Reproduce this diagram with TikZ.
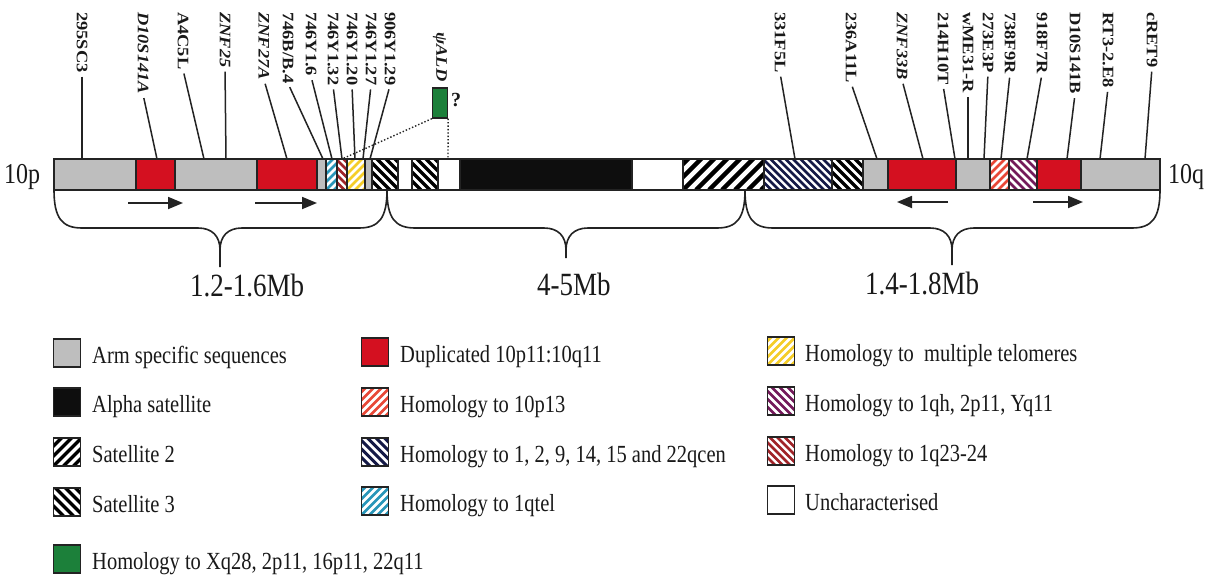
\documentclass[tikz,border=0pt]{standalone}
\usepackage{fontspec}
\setmainfont{Liberation Serif}
\usetikzlibrary{arrows.meta}
\definecolor{armgray}{RGB}{190,190,190}
\definecolor{dupred}{RGB}{212,16,32}
\definecolor{alphablack}{RGB}{14,14,14}
\definecolor{aldgreen}{RGB}{28,128,58}
\definecolor{qtelcyan}{RGB}{40,150,185}
\definecolor{telyellow}{RGB}{245,205,40}
\definecolor{ptredd}{RGB}{232,72,55}
\definecolor{qhpurple}{RGB}{115,25,90}
\definecolor{qtwred}{RGB}{160,35,40}
\definecolor{navyc}{RGB}{20,25,70}
\definecolor{edge}{RGB}{35,35,35}
\definecolor{txt}{RGB}{25,25,25}
\newcommand{\vs}[1]{\scalebox{1}[1.2]{#1}}
\newcommand{\mklab}[4]{%
  \node[lab] (#1) at (#2,12) {\scalebox{1.15}[1]{#3}};
  \draw[conn] (#1.east) -- (#4);}
\newcommand{\mybrace}[4]{%
  \draw[brc] (#1,190) .. controls (#1,218) and (#1+8,228) .. (#1+28,228) -- (#3-22,228)
     .. controls (#3-8,228) and (#3,236) .. (#3,250) -- (#3,#4);
  \draw[brc] (#3,250) .. controls (#3,236) and (#3+8,228) .. (#3+22,228) -- (#2-28,228)
     .. controls (#2-8,228) and (#2,218) .. (#2,190);}
\tikzset{
  seg/.style={draw=edge, line width=1.3pt},
  arm/.style={seg, fill=armgray},
  dup/.style={seg, fill=dupred},
  alpha/.style={seg, fill=alphablack},
  unch/.style={seg, fill=white},
  ald/.style={seg, fill=aldgreen},
  % #1 = 1 for "/" , -1 for "\" ; #2 = horizontal spacing ; #3 = line width ; #4 = colour
  hatch/.style n args={4}{seg, fill=white,
     path picture={
       \foreach \k in {-8,...,22}
         \draw[#4, line width=#3]
           (path picture bounding box.south west) ++(\k*#2,0) -- ++(#1*40,-40);
     }},
  sattwo/.style={hatch={1}{13}{4.3pt}{black}},
  satthree/.style={hatch={-1}{9}{3.2pt}{black}},
  cen/.style={hatch={-1}{7.5}{2.8pt}{navyc}},
  qtel/.style={hatch={1}{8}{2.6pt}{qtelcyan}},
  ptt/.style={hatch={1}{8}{2.6pt}{ptredd}},
  tel/.style={hatch={1}{8}{2.8pt}{telyellow}},
  qh/.style={hatch={-1}{8}{2.6pt}{qhpurple}},
  qtw/.style={hatch={-1}{7.5}{2.5pt}{qtwred}},
  lab/.style={rotate=-90, anchor=west, inner sep=0pt, text=txt,
     font=\fontsize{16}{16}\selectfont\bfseries},
  conn/.style={draw=edge, line width=1.5pt, shorten <=4pt},
  brc/.style={draw=edge, line width=1.6pt},
  arr/.style={draw=edge, line width=1.8pt, -{Triangle[length=15pt,width=12pt]}},
  legbox/.style={minimum width=27pt, minimum height=28pt, inner sep=0pt, line width=1.5pt},
  legtxt/.style={anchor=base west, inner sep=0pt, text=txt, font=\fontsize{20.5}{20.5}\selectfont},
  mbtxt/.style={anchor=base west, inner sep=0pt, text=txt, font=\fontsize{27}{27}\selectfont},
}
\begin{document}
\begin{tikzpicture}[x=1pt,y=-1pt]
\useasboundingbox[fill=white] (0,0) rectangle (1216,576);
% bar segments
\foreach \a/\b/\s in {54/136/arm, 136/175/dup, 175/257/arm, 257/317/dup, 317/326/arm,
  326/337/qtel, 337/347/qtw, 347/365/tel, 365/372/arm, 372/398/satthree, 398/412/unch,
  412/438/satthree, 438/460/unch, 460/632/alpha, 632/683/unch, 683/764/sattwo,
  764/832/cen, 832/863/satthree, 863/888/arm, 888/956/dup, 956/990/arm, 990/1009/ptt,
  1009/1037/qh, 1037/1081/dup, 1081/1160/arm}
  \path[\s] (\a,159) rectangle (\b,190);
% attachment points on the bar
\foreach \n/\x in {a1/82, a2/157, a3/204, a4/226, a5/287, a6/323, a7/332, a8/342, a9/355,
  a10/363, a11/370, a12/795, a13/877, a14/923, a15/955, a16/968, a17/984, a18/1001,
  a19/1027, a20/1067, a21/1100, a22/1145, aq/342, ar/448}
  \coordinate (\n) at (\x,159);
% labels
\mklab{l1}{82}{295SC3}{a1}
\mklab{l2}{143}{\itshape D10S141A}{a2}
\mklab{l3}{183}{A4C5L}{a3}
\mklab{l4}{225}{\itshape ZNF25}{a4}
\mklab{l5}{264}{\itshape ZNF27A}{a5}
\mklab{l6}{288}{746B/B.4}{a6}
\mklab{l7}{311}{746Y1.6}{a7}
\mklab{l8}{333}{746Y1.32}{a8}
\mklab{l9}{352}{746Y1.20}{a9}
\mklab{l10}{371}{746Y1.27}{a10}
\mklab{l11}{390}{906Y1.29}{a11}
\mklab{l12}{780}{331F5L}{a12}
\mklab{l13}{851}{236A11L}{a13}
\mklab{l14}{902}{\itshape ZNF33B}{a14}
\mklab{l15}{943}{214H10T}{a15}
\mklab{l16}{968}{wME31-R}{a16}
\mklab{l17}{988}{273E3P}{a17}
\mklab{l18}{1010}{738F9R}{a18}
\mklab{l19}{1042}{918F7R}{a19}
\mklab{l20}{1075}{D10S141B}{a20}
\mklab{l21}{1108}{RT3-2.E8}{a21}
\mklab{l22}{1152}{cRET9}{a22}
% psi ALD
\node[lab] (lald) at (440,32) {\scalebox{1.15}[1]{\itshape ψALD}};
\node[ald, minimum width=15pt, minimum height=30pt, inner sep=0pt] (gbox) at (440,103) {};
\node[anchor=west, inner sep=0pt, text=txt, font=\fontsize{20}{20}\selectfont\bfseries] (qm) at (451,100) {?};
\draw[edge, line width=1.4pt, dotted] (gbox.south west) -- (aq);
\draw[edge, line width=1.4pt, dotted] (gbox.south east) -- (ar);
% arm labels
\node[anchor=base west, inner sep=0pt, text=txt, font=\fontsize{24}{24}\selectfont] (p10) at (4,183) {\vs{10p}};
\node[anchor=base west, inner sep=0pt, text=txt, font=\fontsize{24}{24}\selectfont] (q10) at (1168,183) {\vs{10q}};
% arrows
\draw[arr] (128,203) -- (183,203);
\draw[arr] (255,203) -- (317,203);
\draw[arr] (948,202) -- (897,202);
\draw[arr] (1033,202) -- (1083,202);
% braces
\mybrace{54}{387}{220}{267}
\mybrace{387}{745}{566}{258}
\mybrace{745}{1160}{952}{265}
\node[mbtxt] (mb1) at (190,296) {\vs{1.2-1.6Mb}};
\node[mbtxt] (mb2) at (537,295) {\vs{4-5Mb}};
\node[mbtxt] (mb3) at (865,294) {\vs{1.4-1.8Mb}};
% legend column 1
\node[legbox, arm] (k1) at (67,353) {};
\node[legtxt] (t1) at (92,363) {\vs{Arm specific sequences}};
\node[legbox, alpha] (k2) at (67,402) {};
\node[legtxt] (t2) at (92,412) {\vs{Alpha satellite}};
\node[legbox, hatch={1}{10}{3.4pt}{black}] (k3) at (67,452) {};
\node[legtxt] (t3) at (92,462) {\vs{Satellite 2}};
\node[legbox, hatch={-1}{10}{3.4pt}{black}] (k4) at (67,502) {};
\node[legtxt] (t4) at (92,512) {\vs{Satellite 3}};
\node[legbox, ald] (k5) at (67,559) {};
\node[legtxt] (t5) at (92,569) {\vs{Homology to Xq28, 2p11, 16p11, 22q11}};
% legend column 2
\node[legbox, dup] (k6) at (375,352) {};
\node[legtxt] (t6) at (400,362) {\vs{Duplicated 10p11:10q11}};
\node[legbox, ptt] (k7) at (375,402) {};
\node[legtxt] (t7) at (400,412) {\vs{Homology to 10p13}};
\node[legbox, hatch={-1}{8.5}{3pt}{navyc}] (k8) at (375,452) {};
\node[legtxt] (t8) at (400,462) {\vs{Homology to 1, 2, 9, 14, 15 and 22qcen}};
\node[legbox, qtel] (k9) at (375,501) {};
\node[legtxt] (t9) at (400,511) {\vs{Homology to 1qtel}};
% legend column 3
\node[legbox, tel] (k10) at (781,351) {};
\node[legtxt] (t10) at (805,361) {\vs{Homology to\ \ multiple telomeres}};
\node[legbox, qh] (k11) at (781,401) {};
\node[legtxt] (t11) at (805,411) {\vs{Homology to 1qh, 2p11, Yq11}};
\node[legbox, qtw] (k12) at (781,451) {};
\node[legtxt] (t12) at (805,461) {\vs{Homology to 1q23-24}};
\node[legbox, unch] (k13) at (781,500) {};
\node[legtxt] (t13) at (805,510) {\vs{Uncharacterised}};
\end{tikzpicture}
\end{document}
